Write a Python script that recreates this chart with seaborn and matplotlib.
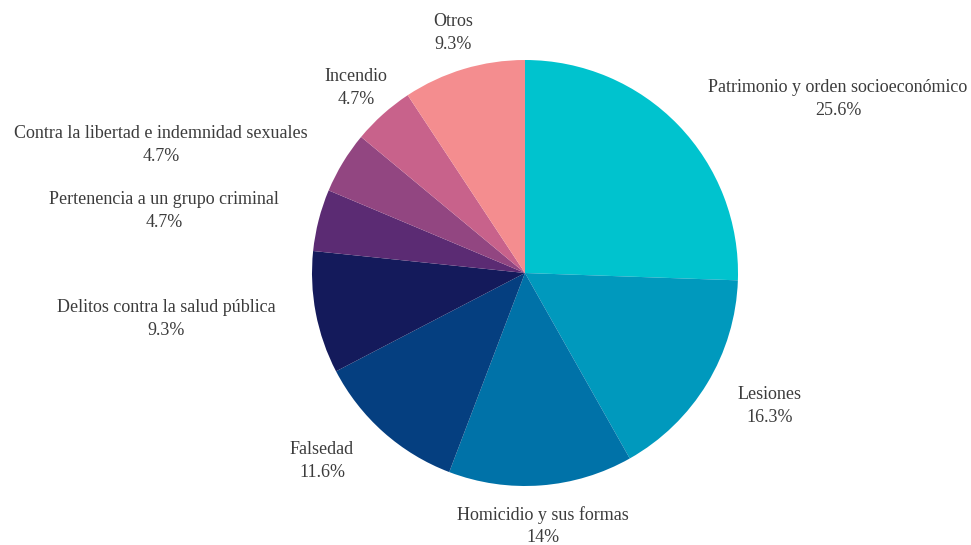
import matplotlib
matplotlib.use("Agg")
import matplotlib.pyplot as plt
import seaborn as sns

# Distribution of offences (%)
categories = [
    "Patrimonio y orden socioeconómico",
    "Lesiones",
    "Homicidio y sus formas",
    "Falsedad",
    "Delitos contra la salud pública",
    "Pertenencia a un grupo criminal",
    "Contra la libertad e indemnidad sexuales",
    "Incendio",
    "Otros",
]
percentages = [25.6, 16.3, 14, 11.6, 9.3, 4.7, 4.7, 4.7, 9.3]
slice_colors = [
    "#00C3CE", "#0099BD", "#0072A8", "#053F80", "#141A5B",
    "#5B2B73", "#924681", "#C8628B", "#F48D8F",
]

# Label anchor points (pixel layout, origin at top-left)
label_xy = [
    (838, 99), (770, 406), (543, 526), (322, 461), (166, 319),
    (164, 211), (161, 145), (356, 88), (453, 33),
]

W, H = 971, 545
sns.set_theme(style="white")
plt.rcParams["font.family"] = ["Liberation Serif", "DejaVu Serif"]

fig = plt.figure(figsize=(W / 100, H / 100), dpi=100)
ax = fig.add_axes([0, 0, 1, 1])
palette = sns.color_palette(slice_colors)

ax.pie(
    percentages,
    colors=palette,
    startangle=90,
    counterclock=False,
    center=(525, H - 273),
    radius=213,
    wedgeprops=dict(linewidth=0),
)

for cat, val, (x, y) in zip(categories, percentages, label_xy):
    ax.text(
        x, H - y, f"{cat}\n{val:g}%",
        ha="center", va="center", multialignment="center",
        fontsize=13, color="#3c3c3c", linespacing=1.45,
    )

ax.set_xlim(0, W)
ax.set_ylim(0, H)
ax.set_aspect("equal")
ax.axis("off")

fig.savefig("out.png", dpi=100, facecolor="white")
